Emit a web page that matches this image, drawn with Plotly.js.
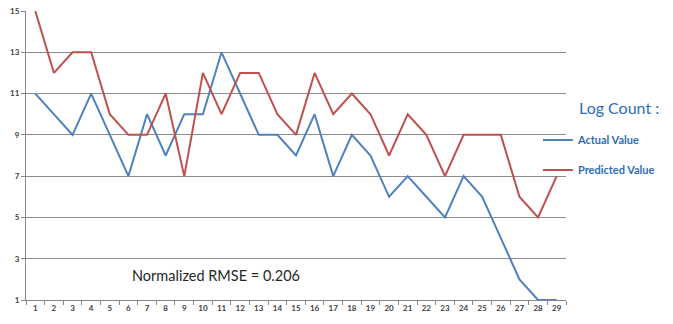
<!DOCTYPE html>
<html>
<head>
<meta charset="utf-8">
<script src="https://cdn.plot.ly/plotly-3.0.1.min.js"></script>
<style>html,body{margin:0;padding:0;background:#fff;}#chart{width:673px;height:324px;}</style>
</head>
<body>
<div id="chart"></div>
<script>
const categories = ["1","2","3","4","5","6","7","8","9","10","11","12","13","14","15","16","17","18","19","20","21","22","23","24","25","26","27","28","29"];
const actualValue = [11,10,9,11,9,7,10,8,10,10,13,11,9,9,8,10,7,9,8,6,7,6,5,7,6,4,2,1,1];
const predictedValue = [15,12,13,13,10,9,9,11,7,12,10,12,12,10,9,12,10,11,10,8,10,9,7,9,9,9,6,5,7];
const yTicks = [1,3,5,7,9,11,13,15];

const traces = [
  {x: categories, y: actualValue, name: "Actual Value", type: "scatter", mode: "lines",
   line: {color: "#4F81BD", width: 2}, legendgroup: "a"},
  {x: categories, y: predictedValue, name: "Predicted Value", type: "scatter", mode: "lines",
   line: {color: "#C0504D", width: 2}, legendgroup: "b"}
];

const tickFont = {family: "Lato, 'Open Sans', sans-serif", size: 8, color: "#404040", weight: "bold"};

const layout = {
  width: 673, height: 324,
  margin: {l: 26, r: 107, t: 11, b: 24},
  paper_bgcolor: "#fff", plot_bgcolor: "#fff",
  showlegend: true,
  xaxis: {type: "category", categoryarray: categories, range: [-0.5, 28.5],
    tickson: "boundaries", ticks: "outside", ticklen: 4, tickcolor: "#868686", tickangle: 0,
    showline: true, linecolor: "#868686", linewidth: 1, showgrid: false,
    tickfont: tickFont, fixedrange: true},
  yaxis: {range: [1, 15], tickvals: yTicks, ticks: "outside", ticklen: 4, tickcolor: "#868686",
    showline: true, linecolor: "#868686", linewidth: 1, showgrid: true, gridcolor: "#8C8C8C",
    gridwidth: 1, zeroline: false, tickfont: tickFont, fixedrange: true},
  legend: {x: 0.948, xanchor: "left", y: 0.604, yanchor: "top",
    bgcolor: "rgba(0,0,0,0)", traceorder: "grouped", tracegroupgap: 11,
    itemwidth: 30,
    font: {family: "Lato, 'Open Sans', sans-serif", size: 11, color: "#2E6DB8", weight: "bold"}},
  shapes: [{type: "rect", layer: "between", xref: "paper", yref: "y",
    x0: 0.962, x1: 1.01, y0: 10.8, y1: 11.2, fillcolor: "#fff", line: {width: 0}}],
  annotations: [
    {xref: "x", yref: "y", x: 9.7, y: 2.2, showarrow: false,
     text: "Normalized RMSE = 0.206",
     font: {family: "Lato, 'Open Sans', sans-serif", size: 14.5, color: "#262626"}},
    {xref: "paper", yref: "paper", x: 1.02, xanchor: "left", y: 0.665, yanchor: "middle", showarrow: false,
     text: "Log Count :",
     font: {family: "Lato, 'Open Sans', sans-serif", size: 16, color: "#2E6DB8"}}
  ]
};

Plotly.newPlot("chart", traces, layout, {displayModeBar: false, staticPlot: true});
</script>
</body>
</html>
